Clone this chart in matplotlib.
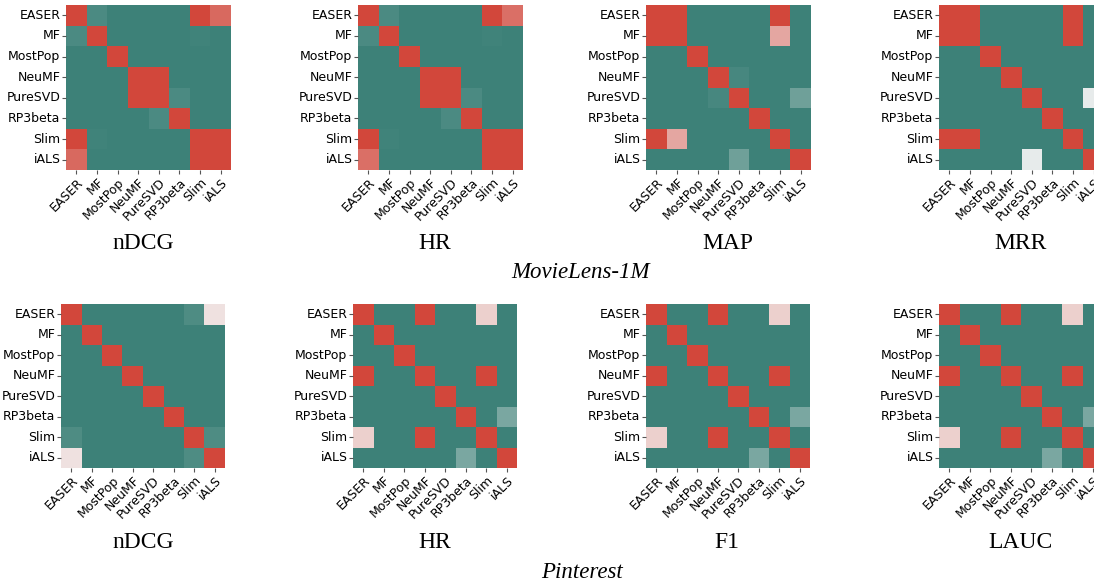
import matplotlib
matplotlib.use("Agg")
import matplotlib.pyplot as plt
import numpy as np
import seaborn as sns
from matplotlib.colors import LinearSegmentedColormap

models = ["EASER", "MF", "MostPop", "NeuMF", "PureSVD", "RP3beta", "Slim", "iALS"]

# 0 = teal (different), 1 = red (same), 0.5 = light centre
ml_ndcg = [
    [1.00, 0.04, 0.00, 0.00, 0.00, 0.00, 1.00, 0.90],
    [0.04, 1.00, 0.00, 0.00, 0.00, 0.00, 0.01, 0.00],
    [0.00, 0.00, 1.00, 0.00, 0.00, 0.00, 0.00, 0.00],
    [0.00, 0.00, 0.00, 1.00, 1.00, 0.00, 0.00, 0.00],
    [0.00, 0.00, 0.00, 1.00, 1.00, 0.04, 0.00, 0.00],
    [0.00, 0.00, 0.00, 0.00, 0.04, 1.00, 0.00, 0.00],
    [1.00, 0.01, 0.00, 0.00, 0.00, 0.00, 1.00, 1.00],
    [0.90, 0.00, 0.00, 0.00, 0.00, 0.00, 1.00, 1.00],
]
ml_hr = [
    [1.00, 0.04, 0.00, 0.00, 0.00, 0.00, 1.00, 0.88],
    [0.04, 1.00, 0.00, 0.00, 0.00, 0.00, 0.01, 0.00],
    [0.00, 0.00, 1.00, 0.00, 0.00, 0.00, 0.00, 0.00],
    [0.00, 0.00, 0.00, 1.00, 1.00, 0.00, 0.00, 0.00],
    [0.00, 0.00, 0.00, 1.00, 1.00, 0.04, 0.00, 0.00],
    [0.00, 0.00, 0.00, 0.00, 0.04, 1.00, 0.00, 0.00],
    [1.00, 0.01, 0.00, 0.00, 0.00, 0.00, 1.00, 1.00],
    [0.88, 0.00, 0.00, 0.00, 0.00, 0.00, 1.00, 1.00],
]
ml_map = [
    [1.00, 1.00, 0.00, 0.00, 0.00, 0.00, 1.00, 0.00],
    [1.00, 1.00, 0.00, 0.00, 0.00, 0.00, 0.72, 0.00],
    [0.00, 0.00, 1.00, 0.00, 0.00, 0.00, 0.00, 0.00],
    [0.00, 0.00, 0.00, 1.00, 0.03, 0.00, 0.00, 0.00],
    [0.00, 0.00, 0.00, 0.03, 1.00, 0.00, 0.00, 0.14],
    [0.00, 0.00, 0.00, 0.00, 0.00, 1.00, 0.00, 0.00],
    [1.00, 0.72, 0.00, 0.00, 0.00, 0.00, 1.00, 0.00],
    [0.00, 0.00, 0.00, 0.00, 0.14, 0.00, 0.00, 1.00],
]
ml_mrr = [
    [1.00, 1.00, 0.00, 0.00, 0.00, 0.00, 1.00, 0.00],
    [1.00, 1.00, 0.00, 0.00, 0.00, 0.00, 1.00, 0.00],
    [0.00, 0.00, 1.00, 0.00, 0.00, 0.00, 0.00, 0.00],
    [0.00, 0.00, 0.00, 1.00, 0.00, 0.00, 0.00, 0.00],
    [0.00, 0.00, 0.00, 0.00, 1.00, 0.00, 0.00, 0.47],
    [0.00, 0.00, 0.00, 0.00, 0.00, 1.00, 0.00, 0.00],
    [1.00, 1.00, 0.00, 0.00, 0.00, 0.00, 1.00, 0.00],
    [0.00, 0.00, 0.00, 0.00, 0.47, 0.00, 0.00, 1.00],
]
pin_ndcg = [
    [1.00, 0.00, 0.00, 0.00, 0.00, 0.00, 0.05, 0.55],
    [0.00, 1.00, 0.00, 0.00, 0.00, 0.00, 0.00, 0.00],
    [0.00, 0.00, 1.00, 0.00, 0.00, 0.00, 0.00, 0.00],
    [0.00, 0.00, 0.00, 1.00, 0.00, 0.00, 0.00, 0.00],
    [0.00, 0.00, 0.00, 0.00, 1.00, 0.00, 0.00, 0.00],
    [0.00, 0.00, 0.00, 0.00, 0.00, 1.00, 0.00, 0.00],
    [0.05, 0.00, 0.00, 0.00, 0.00, 0.00, 1.00, 0.05],
    [0.55, 0.00, 0.00, 0.00, 0.00, 0.00, 0.05, 1.00],
]
pin_hr = [
    [1.00, 0.00, 0.00, 1.00, 0.00, 0.00, 0.60, 0.00],
    [0.00, 1.00, 0.00, 0.00, 0.00, 0.00, 0.00, 0.00],
    [0.00, 0.00, 1.00, 0.00, 0.00, 0.00, 0.00, 0.00],
    [1.00, 0.00, 0.00, 1.00, 0.00, 0.00, 1.00, 0.00],
    [0.00, 0.00, 0.00, 0.00, 1.00, 0.00, 0.00, 0.00],
    [0.00, 0.00, 0.00, 0.00, 0.00, 1.00, 0.00, 0.17],
    [0.60, 0.00, 0.00, 1.00, 0.00, 0.00, 1.00, 0.00],
    [0.00, 0.00, 0.00, 0.00, 0.00, 0.17, 0.00, 1.00],
]
pin_f1 = [
    [1.00, 0.00, 0.00, 1.00, 0.00, 0.00, 0.60, 0.00],
    [0.00, 1.00, 0.00, 0.00, 0.00, 0.00, 0.00, 0.00],
    [0.00, 0.00, 1.00, 0.00, 0.00, 0.00, 0.00, 0.00],
    [1.00, 0.00, 0.00, 1.00, 0.00, 0.00, 1.00, 0.00],
    [0.00, 0.00, 0.00, 0.00, 1.00, 0.00, 0.00, 0.00],
    [0.00, 0.00, 0.00, 0.00, 0.00, 1.00, 0.00, 0.17],
    [0.60, 0.00, 0.00, 1.00, 0.00, 0.00, 1.00, 0.00],
    [0.00, 0.00, 0.00, 0.00, 0.00, 0.17, 0.00, 1.00],
]
pin_lauc = [
    [1.00, 0.00, 0.00, 1.00, 0.00, 0.00, 0.60, 0.00],
    [0.00, 1.00, 0.00, 0.00, 0.00, 0.00, 0.00, 0.00],
    [0.00, 0.00, 1.00, 0.00, 0.00, 0.00, 0.00, 0.00],
    [1.00, 0.00, 0.00, 1.00, 0.00, 0.00, 1.00, 0.00],
    [0.00, 0.00, 0.00, 0.00, 1.00, 0.00, 0.00, 0.00],
    [0.00, 0.00, 0.00, 0.00, 0.00, 1.00, 0.00, 0.17],
    [0.60, 0.00, 0.00, 1.00, 0.00, 0.00, 1.00, 0.00],
    [0.00, 0.00, 0.00, 0.00, 0.00, 0.17, 0.00, 1.00],
]

top_titles = ["nDCG", "HR", "MAP", "MRR"]
bottom_titles = ["nDCG", "HR", "F1", "LAUC"]
top_data = [ml_ndcg, ml_hr, ml_map, ml_mrr]
bottom_data = [pin_ndcg, pin_hr, pin_f1, pin_lauc]

cmap = LinearSegmentedColormap.from_list(
    "tealred", [(0.0, "#3d8178"), (0.5, "#f2f2f2"), (1.0, "#d2473b")])

W, H = 1094, 586
fig = plt.figure(figsize=(W / 100, H / 100), dpi=100)

# axes boxes in pixels: left, top, size
top_left = [66, 358, 646, 939]
bottom_left = [61, 353, 646, 939]
top_title_x = [143, 435, 728, 1021]
bottom_title_x = [143, 435, 727, 1020]


def draw(left, top, size, data):
    ax = fig.add_axes([left / W, 1 - (top + size) / H, size / W, size / H])
    sns.heatmap(np.array(data), ax=ax, cmap=cmap, vmin=0, vmax=1, cbar=False,
                square=False, xticklabels=models, yticklabels=models)
    ax.tick_params(axis="both", length=3, width=0.8, color="#555555", labelsize=9, pad=1)
    ax.set_xticklabels(models, rotation=45, ha="right", rotation_mode="anchor", fontsize=9)
    ax.set_yticklabels(models, rotation=0, fontsize=9)
    return ax


for i in range(4):
    draw(top_left[i], 5, 165, top_data[i])
    fig.text(top_title_x[i] / W, 1 - 243 / H, top_titles[i], ha="center", va="center",
             family="Liberation Serif", fontsize=17)
for i in range(4):
    draw(bottom_left[i], 304, 164, bottom_data[i])
    fig.text(bottom_title_x[i] / W, 1 - 542 / H, bottom_titles[i], ha="center", va="center",
             family="Liberation Serif", fontsize=17)

fig.text(581 / W, 1 - 272 / H, "MovieLens-1M", ha="center", va="center",
         family="Liberation Serif", style="italic", fontsize=16.5)
fig.text(582 / W, 1 - 572 / H, "Pinterest", ha="center", va="center",
         family="Liberation Serif", style="italic", fontsize=16.5)

fig.savefig("out.png", dpi=100)
